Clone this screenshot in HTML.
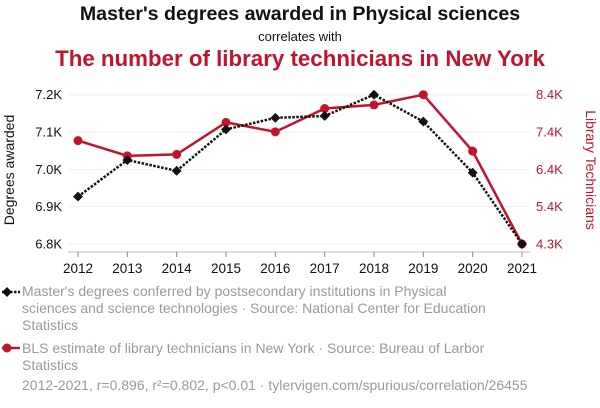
<!DOCTYPE html>
<html><head><meta charset="utf-8"><style>
body{margin:0;background:#fff;font-family:"Liberation Sans",Arial,sans-serif;}
#wrap{position:relative;width:600px;height:408px;overflow:hidden;}
.t{position:absolute;left:0;width:600px;text-align:center;}
.leg{position:absolute;left:22px;font-size:14px;color:#9a9a9a;line-height:17px;width:575px;white-space:nowrap;}
</style></head><body>
<div id="wrap">
<div class="t" style="top:3px;font-size:19.6px;font-weight:bold;color:#111">Master's degrees awarded in Physical sciences</div>
<div class="t" style="top:29px;font-size:13px;color:#111">correlates with</div>
<div class="t" style="top:46px;font-size:22.3px;font-weight:bold;color:#c0142f">The number of library technicians in New York</div>
<svg id="svg" width="600" height="408" style="position:absolute;left:0;top:0"></svg>
<div class="leg" style="top:283px">Master's degrees conferred by postsecondary institutions in Physical<br>sciences and science technologies · Source: National Center for Education<br>Statistics</div>
<div class="leg" style="top:340px">BLS estimate of library technicians in New York · Source: Bureau of Larbor<br>Statistics</div>
<div class="leg" style="top:377px">2012-2021, r=0.896, r²=0.802, p&lt;0.01 · tylervigen.com/spurious/correlation/26455</div>
</div>
<script>
const years=[2012,2013,2014,2015,2016,2017,2018,2019,2020,2021];
const degrees=[6.927,7.025,6.996,7.107,7.138,7.143,7.2,7.128,6.991,6.8];
const techs=[7.14,6.72,6.76,7.64,7.38,8.02,8.12,8.4,6.85,4.3];
const leftTicks=[6.8,6.9,7.0,7.1,7.2];
const leftLabels=["6.8K","6.9K","7.0K","7.1K","7.2K"];
const rightLabels=["4.3K","5.4K","6.4K","7.4K","8.4K"];
const rightTicks=[4.3,5.325,6.35,7.375,8.4];

const NS="http://www.w3.org/2000/svg";
const svg=document.getElementById('svg');
const x=i=>78+i*(522-78)/9;
const yL=v=>244-(v-6.8)/(0.4)*149.3;
const yR=v=>244-(v-4.3)/(4.1)*149.3;
function mk(t,a){const e=document.createElementNS(NS,t);for(const k in a)e.setAttribute(k,a[k]);svg.appendChild(e);return e;}

leftTicks.forEach((v,i)=>{
  const g=mk('line',{x1:68,x2:530,y1:yL(v),y2:yL(v),stroke:'#eee','stroke-width':1});
  
  
  const t=mk('text',{x:62,y:yL(v)+4.5,'text-anchor':'end','font-size':13,fill:'#111'});
  t.textContent=leftLabels[i];
  
  
});
rightTicks.forEach((v,i)=>{
  const t=mk('text',{x:536,y:yR(v)+4.5,'font-size':13,fill:'#c0142f'});
  t.textContent=rightLabels[i];
  
  
});
const ax=mk('line',{x1:68,x2:530,y1:252,y2:252,stroke:'#bbb','stroke-width':1});


years.forEach((yr,i)=>{
  const tk=mk('line',{x1:x(i),x2:x(i),y1:252,y2:257,stroke:'#888'});
  
  
  const t=mk('text',{x:x(i),y:273,'text-anchor':'middle','font-size':13.5,fill:'#111'});
  t.textContent=yr;
  
  
});
const yl=mk('text',{transform:'translate(14,170) rotate(-90)','text-anchor':'middle','font-size':14,fill:'#111'});
yl.textContent='Degrees awarded';


const yr2=mk('text',{transform:'translate(586,170) rotate(90)','text-anchor':'middle','font-size':14,fill:'#c0142f'});
yr2.textContent='Library Technicians';



const rl=mk('polyline',{points:techs.map((v,i)=>x(i)+','+yR(v)).join(' '),fill:'none',stroke:'#c0142f','stroke-width':2.5});


techs.forEach((v,i)=>{
  const c=mk('circle',{cx:x(i),cy:yR(v),r:4.5,fill:'#c0142f'});
  
  
});
const bl=mk('polyline',{points:degrees.map((v,i)=>x(i)+','+yL(v)).join(' '),fill:'none',stroke:'#111','stroke-width':2.5,'stroke-dasharray':'2.5,1.5'});


degrees.forEach((v,i)=>{
  const d=mk('rect',{x:x(i)-3.5,y:yL(v)-3.5,width:7,height:7,fill:'#111',transform:`rotate(45 ${x(i)} ${yL(v)})`});
  
  
});
const l1=mk('line',{x1:2,x2:20,y1:292,y2:292,stroke:'#111','stroke-width':2.5,'stroke-dasharray':'2.5,1.5'});


const l1d=mk('rect',{x:3.5,y:288.5,width:7,height:7,fill:'#111',transform:'rotate(45 7 292)'});


const l2=mk('line',{x1:2,x2:20,y1:348,y2:348,stroke:'#c0142f','stroke-width':2.5});


const l2c=mk('circle',{cx:7,cy:348,r:4.5,fill:'#c0142f'});


</script>
</body></html>
